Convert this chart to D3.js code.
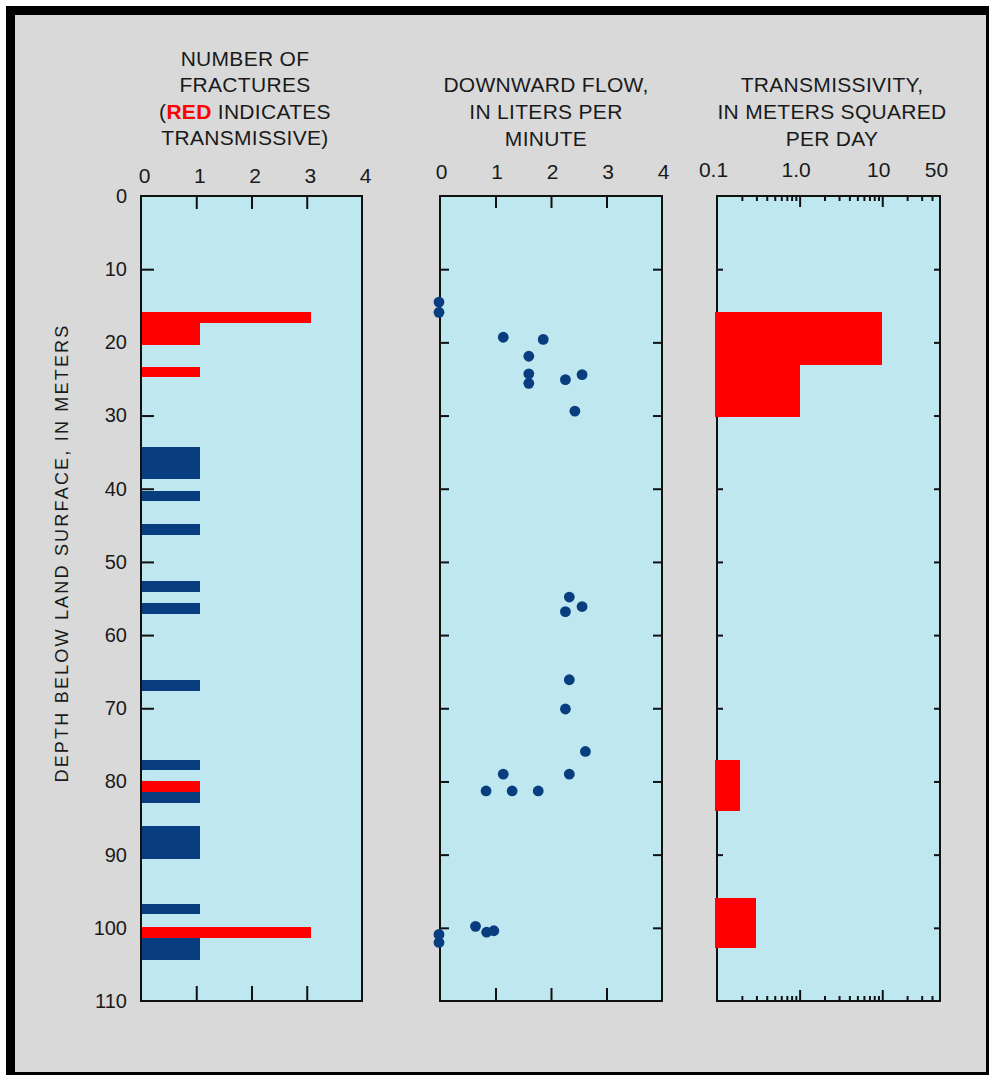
<!DOCTYPE html>
<html>
<head>
<meta charset="utf-8">
<script src="https://cdn.jsdelivr.net/npm/d3@7"></script>
<style>
  html, body { margin: 0; padding: 0; background: #ffffff; }
  svg { display: block; }
  text { font-family: "Liberation Sans", Arial, sans-serif; fill: #1a1a1a; }
</style>
</head>
<body>
<svg id="chart" width="990" height="1076"></svg>
<script>
// ---------------- DATA ----------------
// Fracture log: depth intervals (m), number of fractures, transmissive flag
const fracTop    = [15.8, 17.3, 23.4, 34.3, 40.3, 44.8, 52.6, 55.6, 66.2, 77.0, 80.0, 81.5, 86.1, 96.7, 99.9, 101.4];
const fracBottom = [17.3, 20.3, 24.8, 38.7, 41.7, 46.3, 54.1, 57.1, 67.6, 78.5, 81.5, 83.0, 90.6, 98.1, 101.4, 104.4];
const fracCount  = [3, 1, 1, 1, 1, 1, 1, 1, 1, 1, 1, 1, 1, 1, 3, 1];
const fracTransmissive = [true, true, true, false, false, false, false, false, false, false, true, false, false, false, true, false];

// Downward flow measurements
const flowDepth = [14.5, 15.9, 19.3, 19.6, 21.9, 24.3, 25.6, 25.1, 24.4, 29.4,
                   54.8, 56.1, 56.8, 66.1, 70.1, 75.9, 79.0, 79.0, 81.3, 81.3, 81.3,
                   99.8, 100.6, 100.4, 100.9, 102.0];
const flowRate  = [0, 0, 1.14, 1.86, 1.60, 1.60, 1.60, 2.26, 2.56, 2.43,
                   2.33, 2.56, 2.26, 2.33, 2.26, 2.62, 2.33, 1.14, 0.83, 1.30, 1.77,
                   0.64, 0.84, 0.97, 0, 0];

// Transmissivity zones
const transTop    = [15.8, 23.1, 77.0, 95.9];
const transBottom = [23.1, 30.2, 84.0, 102.7];
const transValue  = [10, 1.0, 0.19, 0.3];

// Axis ticks / labels
const depthTicks = [0, 10, 20, 30, 40, 50, 60, 70, 80, 90, 100, 110];
const innerDepthTicks = [10, 20, 30, 40, 50, 60, 70, 80, 90, 100];
const countTicks = [0, 1, 2, 3, 4];
const flowTicks = [0, 1, 2, 3, 4];
const transTickValues = [0.1, 1, 10, 50];
const transTickLabels = ["0.1", "1.0", "10", "50"];
const transMajor = [1, 10];
const transMinor = [0.2, 0.3, 0.4, 0.5, 0.6, 0.7, 0.8, 0.9, 2, 3, 4, 5, 6, 7, 8, 9, 20, 30, 40];

const title1 = ["NUMBER OF", "FRACTURES", null, "TRANSMISSIVE)"];
const title2 = ["DOWNWARD FLOW,", "IN LITERS PER", "MINUTE"];
const title3 = ["TRANSMISSIVITY,", "IN METERS SQUARED", "PER DAY"];
const yLabel = "DEPTH BELOW LAND SURFACE, IN METERS";

// ---------------- LAYOUT ----------------
const C = {
  bg: "#d9d9d9", plot: "#bfe7ef", blue: "#083e80", red: "#ff0000", ink: "#111111"
};
const yTop = 196, yBot = 1001;
const P1 = {x0: 141, x1: 362};
const P2 = {x0: 440, x1: 662};
const P3 = {x0: 717, x1: 940};

const svg = d3.select("#chart");

// page frame
svg.append("rect").attr("x", 6).attr("y", 6).attr("width", 983).attr("height", 1069).attr("fill", "#000");
svg.append("rect").attr("x", 15).attr("y", 15).attr("width", 971).attr("height", 1057).attr("fill", C.bg);

const y = d3.scaleLinear().domain([0, 110]).range([yTop, yBot]);
const xF = d3.scaleLinear().domain([0, 4]).range([P1.x0, P1.x1]);
const xQ = d3.scaleLinear().domain([0, 4]).range([P2.x0, P2.x1]);
const xT = d3.scaleLog().domain([0.1, 50]).range([P3.x0, P3.x1]);

function plotBg(P) {
  svg.append("rect").attr("x", P.x0).attr("y", yTop)
    .attr("width", P.x1 - P.x0).attr("height", yBot - yTop).attr("fill", C.plot);
}
function frame(P) {
  svg.append("rect").attr("x", P.x0).attr("y", yTop)
    .attr("width", P.x1 - P.x0).attr("height", yBot - yTop)
    .attr("fill", "none").attr("stroke", C.ink).attr("stroke-width", 2);
}
function styleTicks(g, w) {
  g.select(".domain").remove();
  g.selectAll(".tick line").attr("stroke", C.ink).attr("stroke-width", w || 2);
  g.selectAll("text").remove();
}
function labelAxis(g, size) {
  g.select(".domain").remove();
  g.selectAll(".tick line").remove();
  g.selectAll("text").attr("font-size", size).attr("fill", C.ink)
    .style("font-family", '"Liberation Sans", Arial, sans-serif');
}

// ---------------- PANEL 1: fractures ----------------
plotBg(P1);
svg.append("g").attr("transform", `translate(${P1.x0},0)`)
  .call(d3.axisLeft(y).tickValues(innerDepthTicks).tickSize(-13).tickFormat(""))
  .call(g => styleTicks(g));
svg.append("g").attr("transform", `translate(0,${yTop})`)
  .call(d3.axisTop(xF).tickValues([1, 2, 3]).tickSize(-13).tickFormat(""))
  .call(g => styleTicks(g));
svg.append("g").attr("transform", `translate(0,${yBot})`)
  .call(d3.axisBottom(xF).tickValues([1, 2, 3]).tickSize(-15).tickFormat(""))
  .call(g => styleTicks(g));

const fr = d3.range(fracTop.length);
svg.append("g").selectAll("rect").data(fr).join("rect")
  .attr("x", xF(0))
  .attr("y", i => y(fracTop[i]))
  .attr("width", i => xF(fracCount[i]) - xF(0) + 4)
  .attr("height", i => y(fracBottom[i]) - y(fracTop[i]))
  .attr("fill", i => fracTransmissive[i] ? C.red : C.blue)
  .attr("shape-rendering", "crispEdges");
frame(P1);

// depth labels
svg.append("g").attr("transform", `translate(${P1.x0},0)`)
  .call(d3.axisLeft(y).tickValues(depthTicks).tickSize(0).tickPadding(14).tickFormat(d3.format("d")))
  .call(g => labelAxis(g, 20));
// top count labels
svg.append("g").attr("transform", `translate(3,${yTop})`)
  .call(d3.axisTop(xF).tickValues(countTicks).tickSize(0).tickPadding(13).tickFormat(d3.format("d")))
  .call(g => labelAxis(g, 21));

// ---------------- PANEL 2: flow ----------------
plotBg(P2);
svg.append("g").attr("transform", `translate(${P2.x0},0)`)
  .call(d3.axisLeft(y).tickValues(innerDepthTicks).tickSize(-9).tickFormat(""))
  .call(g => styleTicks(g));
svg.append("g").attr("transform", `translate(${P2.x1},0)`)
  .call(d3.axisRight(y).tickValues(innerDepthTicks).tickSize(-9).tickFormat(""))
  .call(g => styleTicks(g));
svg.append("g").attr("transform", `translate(0,${yTop})`)
  .call(d3.axisTop(xQ).tickValues([1, 2, 3]).tickSize(-12).tickFormat(""))
  .call(g => styleTicks(g));
svg.append("g").attr("transform", `translate(0,${yBot})`)
  .call(d3.axisBottom(xQ).tickValues([1, 2, 3]).tickSize(-13).tickFormat(""))
  .call(g => styleTicks(g));
frame(P2);
svg.append("g").selectAll("circle").data(d3.range(flowDepth.length)).join("circle")
  .attr("cx", i => xQ(flowRate[i]) - (flowRate[i] === 0 ? 1 : 0))
  .attr("cy", i => y(flowDepth[i]))
  .attr("r", 5.4)
  .attr("fill", C.blue);
svg.append("g").attr("transform", `translate(1,${yTop})`)
  .call(d3.axisTop(xQ).tickValues(flowTicks).tickSize(0).tickPadding(17).tickFormat(d3.format("d")))
  .call(g => labelAxis(g, 21));

// ---------------- PANEL 3: transmissivity ----------------
plotBg(P3);
svg.append("g").attr("transform", `translate(${P3.x0},0)`)
  .call(d3.axisLeft(y).tickValues(innerDepthTicks).tickSize(-6).tickFormat(""))
  .call(g => styleTicks(g));
svg.append("g").attr("transform", `translate(${P3.x1},0)`)
  .call(d3.axisRight(y).tickValues(innerDepthTicks).tickSize(-6).tickFormat(""))
  .call(g => styleTicks(g));
[[yTop, d3.axisTop], [yBot, d3.axisBottom]].forEach(([yy, ax]) => {
  svg.append("g").attr("transform", `translate(0,${yy})`)
    .call(ax(xT).tickValues(transMajor).tickSize(-11).tickFormat(""))
    .call(g => styleTicks(g));
  svg.append("g").attr("transform", `translate(0,${yy})`)
    .call(ax(xT).tickValues(transMinor).tickSize(-5).tickFormat(""))
    .call(g => styleTicks(g));
});
frame(P3);
svg.append("g").selectAll("rect").data(d3.range(transTop.length)).join("rect")
  .attr("x", xT(0.1) - 2)
  .attr("y", i => y(transTop[i]))
  .attr("width", i => xT(transValue[i]) - xT(0.1) + 2)
  .attr("height", i => y(transBottom[i]) - y(transTop[i]))
  .attr("fill", C.red)
  .attr("shape-rendering", "crispEdges");
svg.append("g").attr("transform", `translate(-4,${yTop})`)
  .call(d3.axisTop(xT).tickValues(transTickValues).tickSize(0).tickPadding(19)
    .tickFormat((d, i) => transTickLabels[i]))
  .call(g => labelAxis(g, 21));

// ---------------- TITLES ----------------
function titleBlock(lines, cx, baselines) {
  const t = svg.append("g");
  lines.forEach((ln, i) => {
    const tx = t.append("text").attr("x", cx).attr("y", baselines[i])
      .attr("text-anchor", "middle").attr("font-size", 21)
      .attr("letter-spacing", 0.3).attr("fill", C.ink);
    if (ln === null) {
      tx.append("tspan").text("(");
      tx.append("tspan").text("RED").attr("fill", C.red).attr("font-weight", "bold");
      tx.append("tspan").text(" INDICATES");
    } else {
      tx.text(ln);
    }
  });
}
titleBlock(title1, 245, [66, 92, 119, 145]);
titleBlock(title2, 546, [92, 119, 146]);
titleBlock(title3, 832, [92, 119, 146]);

// y-axis label
svg.append("text")
  .attr("transform", "translate(68,553) rotate(-90)")
  .attr("text-anchor", "middle")
  .attr("font-size", 18)
  .attr("letter-spacing", 2.2)
  .attr("fill", C.ink)
  .text(yLabel);
</script>
</body>
</html>
